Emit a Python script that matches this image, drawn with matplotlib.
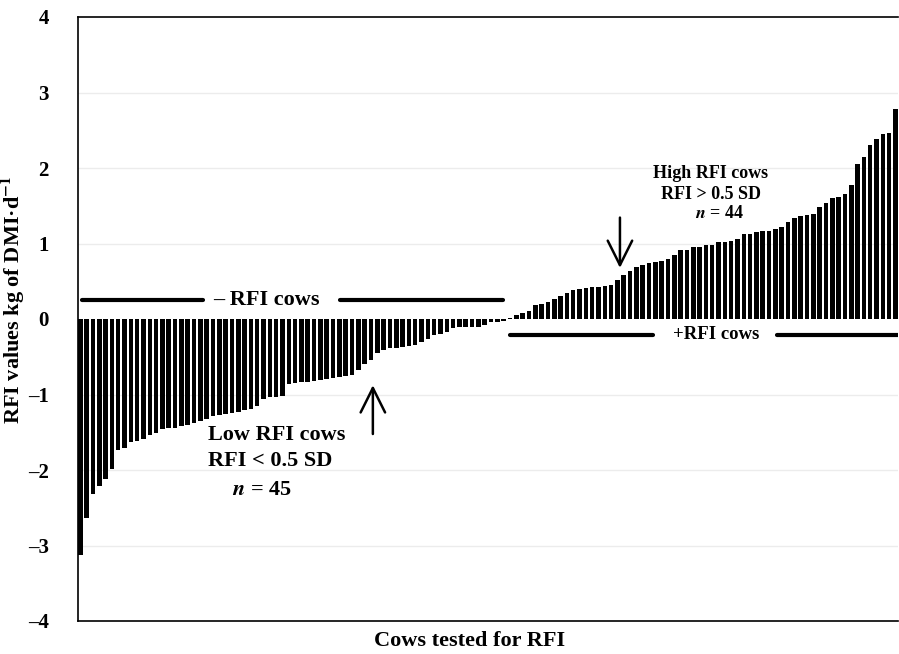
import matplotlib
matplotlib.use("Agg")
import matplotlib.pyplot as plt
import numpy as np

# RFI values of individual cows, sorted (kg of DMI/d)
rfi_negative = [-3.12, -2.63, -2.32, -2.21, -2.12, -1.99, -1.73, -1.71, -1.63, -1.62,
                -1.59, -1.54, -1.51, -1.46, -1.45, -1.44, -1.42, -1.40, -1.38, -1.35,
                -1.32, -1.29, -1.27, -1.26, -1.25, -1.23, -1.21, -1.19, -1.15, -1.06,
                -1.03, -1.03, -1.02, -0.86, -0.85, -0.84, -0.83, -0.82, -0.81, -0.80,
                -0.78, -0.77, -0.75, -0.74, -0.68, -0.59, -0.54, -0.45, -0.41, -0.39,
                -0.38, -0.37, -0.36, -0.34, -0.30, -0.26, -0.21, -0.20, -0.17, -0.12,
                -0.11, -0.11, -0.10, -0.10, -0.08, -0.04, -0.035, -0.03]
rfi_positive = [0.01, 0.05, 0.08, 0.11, 0.18, 0.20, 0.23, 0.27, 0.30, 0.34,
                0.38, 0.40, 0.41, 0.42, 0.43, 0.44, 0.45, 0.52, 0.58, 0.63,
                0.69, 0.72, 0.74, 0.75, 0.77, 0.80, 0.85, 0.92, 0.92, 0.95,
                0.96, 0.98, 0.98, 1.02, 1.02, 1.03, 1.06, 1.13, 1.13, 1.15,
                1.16, 1.17, 1.19, 1.22, 1.28, 1.34, 1.37, 1.38, 1.39, 1.48,
                1.53, 1.60, 1.62, 1.66, 1.78, 2.05, 2.15, 2.31, 2.39, 2.45,
                2.46, 2.78]
rfi_values = rfi_negative + rfi_positive
y_ticks = [-4, -3, -2, -1, 0, 1, 2, 3, 4]

plt.rcParams['font.family'] = ['Liberation Serif', 'DejaVu Serif']
plt.rcParams['mathtext.fontset'] = 'stix'

fig = plt.figure(figsize=(8.99, 6.54), dpi=100)
ax = fig.add_axes([78/899, 1-621/654, 820/899, 604/654])

n = len(rfi_values)
x = np.arange(n)
for yv in [-3, -2, -1, 1, 2, 3]:
    ax.axhline(yv, color='#ececec', lw=1, zorder=0)
ax.bar(x, rfi_values, width=0.72, color='black', zorder=2)

ax.set_xlim(-0.36, 129.4)
ax.set_ylim(-4, 4)
ax.set_xticks([])
ax.set_yticks(y_ticks)
ax.set_yticklabels([f"{v}".replace('-', '\u2013') for v in y_ticks],
                   fontsize=15, fontweight='bold')
ax.tick_params(axis='y', length=0, pad=21)
for s in ax.spines.values():
    s.set_linewidth(1.2)
    s.set_color('black')
ax.spines['right'].set_visible(False)

ax.set_ylabel('RFI values kg of DMI\u00b7d$^{\\mathbf{-1}}$', fontsize=16,
              fontweight='bold')
ax.yaxis.set_label_coords(-0.0625, 0.531)
ax.set_xlabel('Cows tested for RFI', fontsize=16, fontweight='bold')
ax.xaxis.set_label_coords(0.478, -0.017)

# -RFI cows group line
ax.plot([0.3, 19.4], [0.25, 0.25], color='black', lw=3, solid_capstyle='round', zorder=3)
ax.plot([41.1, 66.9], [0.25, 0.25], color='black', lw=3, solid_capstyle='round', zorder=3)
ax.text(29.4, 0.25, '\u2013 RFI cows', fontsize=16, fontweight='bold',
        ha='center', va='center')
# +RFI cows group line
ax.plot([68.0, 90.6], [-0.21, -0.21], color='black', lw=3, solid_capstyle='round', zorder=3)
ax.plot([110.3, 129.4], [-0.21, -0.21], color='black', lw=3, solid_capstyle='round', zorder=3)
ax.text(100.6, -0.21, '+RFI cows', fontsize=13.5, fontweight='bold',
        ha='center', va='center')

# Low RFI annotation
ax.text(20.2, -1.71, 'Low RFI cows\nRFI < 0.5 SD', fontsize=16, fontweight='bold',
        ha='left', va='center', linespacing=1.45)
ax.text(24.0, -2.27, '$\\boldsymbol{n}$ = 45', fontsize=16, fontweight='bold',
        ha='left', va='center')
ax.annotate('', xy=(46.3, -0.84), xytext=(46.3, -1.56),
            arrowprops=dict(arrowstyle='->', lw=1.8, color='black',
                            mutation_scale=44))

# High RFI annotation
ax.text(99.8, 1.79, 'High RFI cows\nRFI > 0.5 SD', fontsize=13, fontweight='bold',
        ha='center', va='center', linespacing=1.35)
ax.text(101.2, 1.40, '$\\boldsymbol{n}$ = 44', fontsize=13, fontweight='bold',
        ha='center', va='center')
ax.annotate('', xy=(85.4, 0.64), xytext=(85.4, 1.38),
            arrowprops=dict(arrowstyle='->', lw=1.8, color='black',
                            mutation_scale=44))

fig.savefig('out.png', dpi=100)
